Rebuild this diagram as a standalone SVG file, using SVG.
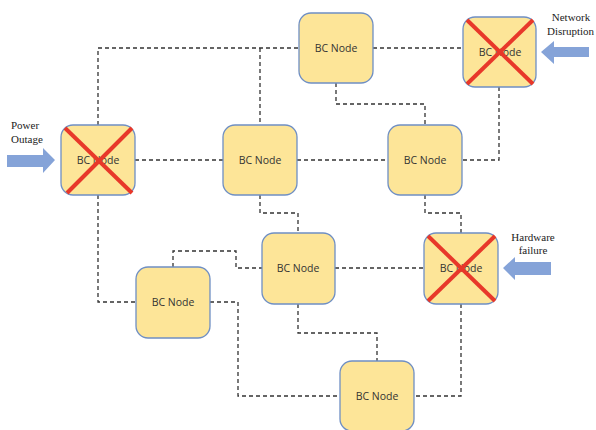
<svg xmlns="http://www.w3.org/2000/svg" width="596" height="430" viewBox="0 0 596 430">
<defs>
<style>
.node rect{fill:#fde598;stroke:#6f8fc4;stroke-width:1.3}
.node text{font-family:"Open Sans","Liberation Sans",sans-serif;font-size:10.5px;fill:#333;text-anchor:middle;dominant-baseline:central}
.x line{stroke:#e8382a;stroke-width:4;stroke-linecap:butt}
#connectors path{fill:none;stroke:#333;stroke-width:1.3;stroke-dasharray:4 3}
.arrow{fill:#85a3d8}
.lbl{font-family:"Liberation Serif",serif;font-size:11px;fill:#222}
</style>
</defs>
<rect width="596" height="430" fill="#fff"/>
<g id="connectors">
<path d="M98 125V48H299"/>
<path d="M260 48V125"/>
<path d="M373 48H463"/>
<path d="M336 83V104H425V125"/>
<path d="M499 87V160H462"/>
<path d="M135 160H223"/>
<path d="M297 160H388"/>
<path d="M98 195V302H136"/>
<path d="M260 195V213H298V233"/>
<path d="M173 267V251H236V268H262"/>
<path d="M335 268H424"/>
<path d="M425 195V213H461V233"/>
<path d="M210 302H238V396H340"/>
<path d="M298 304V333H377V361"/>
<path d="M461 304V396H414"/>
</g>
<g id="nodeA" class="node"><rect x="61" y="125" width="74" height="70" rx="12"/><text x="98" y="160">BC Node</text><g class="x"><line x1="65" y1="128" x2="132" y2="193"/><line x1="132" y1="128" x2="67" y2="193"/></g></g>
<g id="nodeB" class="node"><rect x="223" y="125" width="74" height="70" rx="12"/><text x="260" y="160">BC Node</text></g>
<g id="nodeC" class="node"><rect x="299" y="13" width="74" height="70" rx="12"/><text x="336" y="48">BC Node</text></g>
<g id="nodeD" class="node"><rect x="463" y="17" width="73" height="70" rx="12"/><text x="500" y="52">BC Node</text><g class="x"><line x1="467" y1="20" x2="533" y2="84"/><line x1="533" y1="20" x2="467" y2="84"/></g></g>
<g id="nodeE" class="node"><rect x="388" y="125" width="74" height="70" rx="12"/><text x="425" y="160">BC Node</text></g>
<g id="nodeF" class="node"><rect x="136" y="267" width="74" height="71" rx="12"/><text x="173" y="302">BC Node</text></g>
<g id="nodeG" class="node"><rect x="262" y="233" width="73" height="71" rx="12"/><text x="298" y="268">BC Node</text></g>
<g id="nodeH" class="node"><rect x="424" y="233" width="74" height="71" rx="12"/><text x="461" y="268">BC Node</text><g class="x"><line x1="428" y1="236" x2="495" y2="301"/><line x1="495" y1="236" x2="428" y2="301"/></g></g>
<g id="nodeI" class="node"><rect x="340" y="361" width="74" height="70" rx="12"/><text x="377" y="396">BC Node</text></g>
<g id="arrowPower"><polygon class="arrow" points="7,155 43,155 43,148 55,160 43,173 43,167 7,167"/></g>
<g id="arrowNetwork"><polygon class="arrow" points="589,47 554,47 554,41 541,52 554,64 554,57 589,57"/></g>
<g id="arrowHardware"><polygon class="arrow" points="551,262 515,262 515,257 503,268 515,280 515,275 551,275"/></g>
<g id="labels">
<text class="lbl" x="11" y="129">Power</text>
<text class="lbl" x="11" y="143">Outage</text>
<text class="lbl" x="571" y="21" text-anchor="middle">Network</text>
<text class="lbl" x="594" y="35" text-anchor="end">Disruption</text>
<text class="lbl" x="533" y="241" text-anchor="middle">Hardware</text>
<text class="lbl" x="533" y="254" text-anchor="middle">failure</text>
</g>
</svg>
